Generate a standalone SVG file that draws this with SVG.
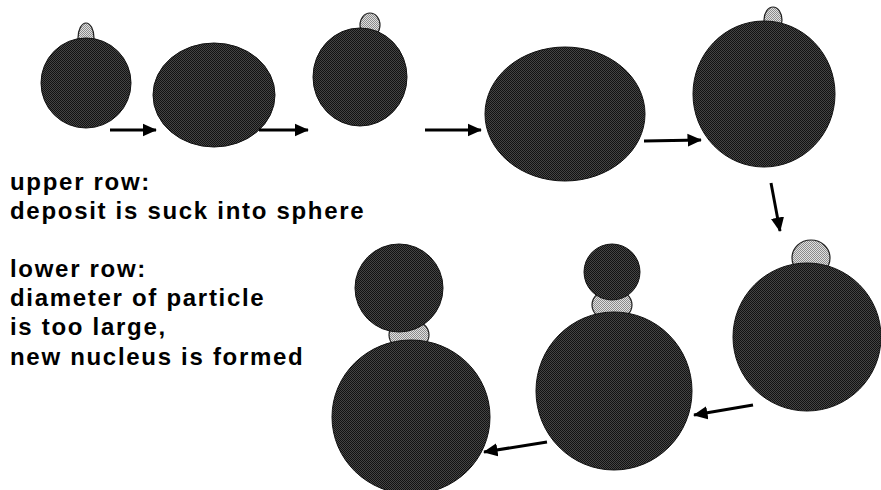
<svg xmlns="http://www.w3.org/2000/svg" width="881" height="490" viewBox="0 0 881 490">
<defs>
<pattern id="dk" width="2" height="2" patternUnits="userSpaceOnUse"><rect width="2" height="2" fill="#444"/><rect width="1" height="1" fill="#121212"/><rect x="1" y="1" width="1" height="1" fill="#121212"/></pattern>
<pattern id="lt" width="2" height="2" patternUnits="userSpaceOnUse"><rect width="2" height="2" fill="#e0e0e0"/><rect width="1" height="1" fill="#8a8a8a"/><rect x="1" y="1" width="1" height="1" fill="#8a8a8a"/></pattern>
<marker id="ah" markerWidth="5" markerHeight="5" refX="4.5" refY="2.5" orient="auto" markerUnits="strokeWidth"><path d="M0,0.3 L4.8,2.5 L0,4.7 Z" fill="#000"/></marker>
</defs>
<style>
.sp{fill:url(#dk);stroke:#111;stroke-width:1}
.dp{fill:url(#lt);stroke:#222;stroke-width:1.2}
.ar{stroke:#000;stroke-width:3;fill:none;marker-end:url(#ah)}
text{font-family:"Liberation Sans",Arial,sans-serif;font-weight:bold;font-size:24px;letter-spacing:1.7px;fill:#000}
</style>
<rect width="881" height="490" fill="#fff"/>
<g id="s1"><ellipse class="dp" cx="86" cy="38" rx="8" ry="15"/><ellipse class="sp" cx="86" cy="83" rx="45" ry="45"/></g>
<g id="s2"><ellipse class="sp" cx="214" cy="95" rx="61" ry="52"/></g>
<g id="s3"><ellipse class="dp" cx="370" cy="25" rx="10" ry="12"/><ellipse class="sp" cx="360" cy="77" rx="47" ry="49"/></g>
<g id="s4"><ellipse class="sp" cx="565" cy="114" rx="80" ry="67"/></g>
<g id="s5"><ellipse class="dp" cx="773" cy="20" rx="9" ry="13"/><ellipse class="sp" cx="764" cy="94" rx="71" ry="73"/></g>
<g id="s6"><ellipse class="dp" cx="811" cy="258" rx="19" ry="18"/><ellipse class="sp" cx="807" cy="337" rx="74" ry="74"/></g>
<g id="s7"><ellipse class="dp" cx="612" cy="305" rx="20" ry="16"/><ellipse class="sp" cx="612" cy="272" rx="28" ry="28"/><ellipse class="sp" cx="614" cy="391" rx="78" ry="79"/></g>
<g id="s8"><ellipse class="dp" cx="409" cy="335" rx="20" ry="16"/><ellipse class="sp" cx="399" cy="288" rx="44" ry="44"/><ellipse class="sp" cx="411" cy="417" rx="79" ry="77"/></g>
<g id="connectors">
<line class="ar" x1="110" y1="130" x2="156" y2="130"/>
<line class="ar" x1="259" y1="130" x2="308" y2="130"/>
<line class="ar" x1="425" y1="130" x2="481" y2="130"/>
<line class="ar" x1="644" y1="141" x2="701" y2="140"/>
<line class="ar" x1="771" y1="183" x2="780" y2="231"/>
<line class="ar" x1="753" y1="405" x2="694" y2="415"/>
<line class="ar" x1="547" y1="442" x2="484" y2="452"/>
</g>
<g id="labels">
<text x="10" y="190">upper row:</text>
<text x="10" y="219">deposit is suck into sphere</text>
<text x="10" y="277">lower row:</text>
<text x="10" y="306">diameter of particle</text>
<text x="10" y="335">is too large,</text>
<text x="10" y="365">new nucleus is formed</text>
</g>
</svg>
